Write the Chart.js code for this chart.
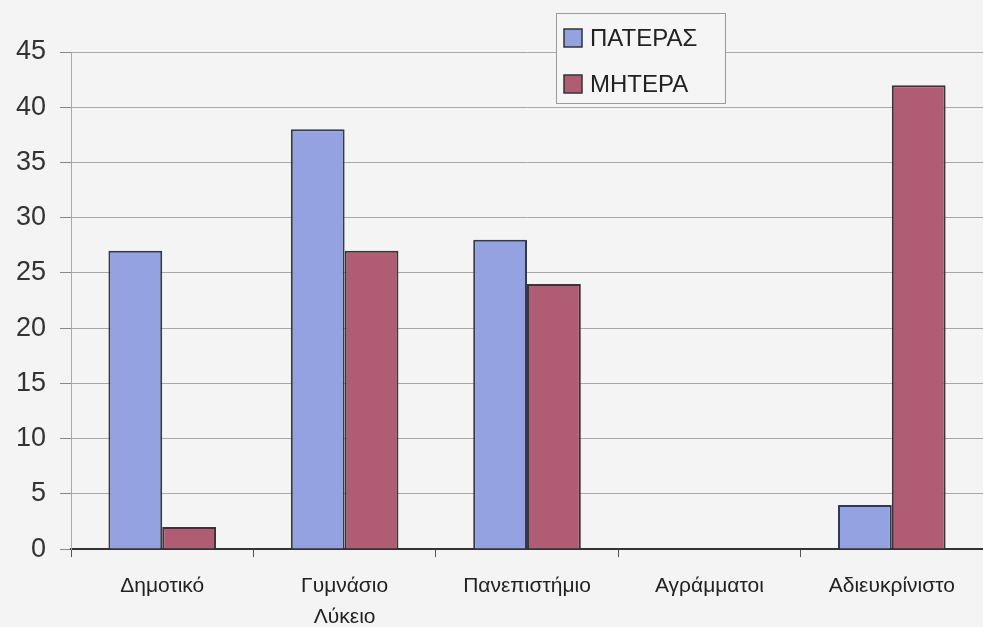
<!DOCTYPE html>
<html>
<head>
<meta charset="utf-8">
<script src="https://cdn.jsdelivr.net/npm/chart.js@4"></script>
<style>
html,body{margin:0;padding:0;background:#f4f4f4;}
#wrap{width:983px;height:627px;}
</style>
</head>
<body>
<div id="wrap"><canvas id="c" width="983" height="627"></canvas></div>
<script>
const categories = ["Δημοτικό", ["Γυμνάσιο", "Λύκειο"], "Πανεπιστήμιο", "Αγράμματοι", "Αδιευκρίνιστο"];
const seriesNames = ["ΠΑΤΕΡΑΣ", "ΜΗΤΕΡΑ"];
const fatherValues = [27, 38, 28, 0, 4];
const motherValues = [2, 27, 24, 0, 42];
const yTicks = [0, 5, 10, 15, 20, 25, 30, 35, 40, 45];

const boxLegend = {
  id: 'boxLegend',
  afterDraw(chart) {
    const ctx = chart.ctx;
    ctx.save();
    ctx.fillStyle = '#f5f5f5';
    ctx.fillRect(556, 13, 169, 90);
    ctx.strokeStyle = '#9a9a9a';
    ctx.lineWidth = 1;
    ctx.strokeRect(556.5, 13.5, 169, 90);
    chart.data.datasets.forEach((ds, i) => {
      const y = 29 + i * 46;
      ctx.fillStyle = ds.backgroundColor;
      ctx.fillRect(564, y, 18, 18);
      ctx.strokeStyle = '#333';
      ctx.lineWidth = 1.5;
      ctx.strokeRect(564, y, 18, 18);
      ctx.fillStyle = '#222';
      ctx.font = '24px "Liberation Sans", Arial, sans-serif';
      ctx.textBaseline = 'middle';
      ctx.fillText(ds.label, 590, y + 10);
    });
    ctx.restore();
  }
};

new Chart(document.getElementById('c'), {
  type: 'bar',
  data: {
    labels: categories,
    datasets: [
      { label: seriesNames[0], data: fatherValues, backgroundColor: '#94a2e2', borderColor: '#333a4a', borderWidth: 2, borderSkipped: 'bottom' },
      { label: seriesNames[1], data: motherValues, backgroundColor: '#b05c74', borderColor: '#3a3338', borderWidth: 2, borderSkipped: 'bottom' }
    ]
  },
  options: {
    responsive: false,
    animation: false,
    layout: { padding: { top: 52, right: -7, left: 2, bottom: -19 } },
    plugins: { legend: { display: false }, tooltip: { enabled: false } },
    datasets: { bar: { categoryPercentage: 0.59, barPercentage: 1.0 } },
    scales: {
      x: {
        grid: { display: true, drawOnChartArea: false, drawTicks: true, tickLength: 8, color: '#555' },
        border: { display: true, color: '#333', width: 2 },
        ticks: { color: '#222', font: { family: '"Liberation Sans", Arial, sans-serif', size: 21, lineHeight: 1.45 }, padding: 14, maxRotation: 0, autoSkip: false }
      },
      y: {
        min: 0, max: 45,
        afterBuildTicks(axis) { axis.ticks = yTicks.map(v => ({ value: v })); },
        grid: { color: '#a8a8a8', lineWidth: 1, drawTicks: true, tickLength: 11, tickColor: '#888' },
        border: { display: true, color: '#aaa', width: 1 },
        ticks: { color: '#333', font: { family: '"Liberation Sans", Arial, sans-serif', size: 27 }, padding: 14 }
      }
    }
  },
  plugins: [boxLegend]
});
</script>
</body>
</html>
